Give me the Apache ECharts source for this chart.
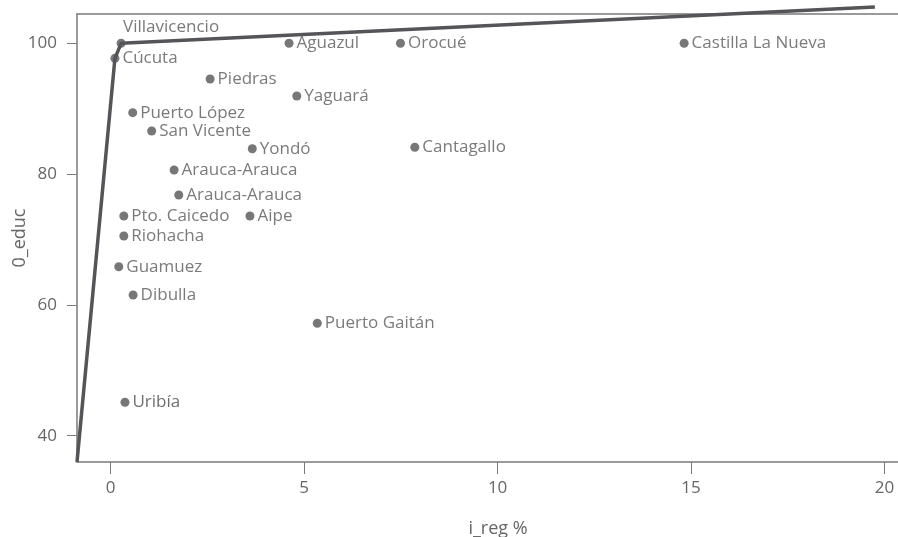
<!DOCTYPE html>
<html><head><meta charset="utf-8">
<script src="https://cdn.jsdelivr.net/npm/echarts@6/dist/echarts.min.js"></script>
<style>html,body{margin:0;padding:0;background:#fff}#c{width:898px;height:537px}</style>
</head><body><div id="c"></div>
<script>
const names = ["Villavicencio","Cúcuta","Aguazul","Orocué","Castilla La Nueva","Piedras","Yaguará","Puerto López","San Vicente","Yondó","Cantagallo","Arauca-Arauca","Arauca-Arauca","Pto. Caicedo","Aipe","Riohacha","Guamuez","Dibulla","Puerto Gaitán","Uribía"];
const xVals = [0.27,0.11,4.61,7.49,14.82,2.57,4.81,0.57,1.06,3.66,7.86,1.64,1.76,0.34,3.60,0.34,0.21,0.58,5.34,0.37];
const yVals = [100.0,97.7,100.0,100.0,100.0,94.54,91.94,89.39,86.59,83.88,84.1,80.63,76.81,73.6,73.6,70.54,65.84,61.51,57.19,45.11];
const frontierX = [-0.87,0.11,0.27,19.75];
const frontierY = [35.98,97.7,100.0,105.55];
const xTicks = [0,5,10,15,20];
const yTicks = [40,60,80,100];

const FONT = "Open Sans";
const TXT = "#595959";
const MARK = "#555559";

const pts = names.map((n,i)=>{
  const d = {value:[xVals[i],yVals[i]], name:n};
  if (n === "Villavicencio") {
    d.label = {position:'top', align:'left', offset:[2,0]};
  }
  if (n === "Uribía") {
    d.label = {color:'#4a4a4a', fontWeight:500};
  }
  return d;
});

const chart = echarts.init(document.getElementById('c'), null, {renderer:'canvas'});
chart.setOption({
  animation:false,
  grid:{left:77, top:14, right:-21, bottom:75, show:false, containLabel:false, outerBoundsMode:'none'},
  xAxis:[{
    type:'value', min:-0.87, max:20.89,
    name:'i_reg %', nameLocation:'middle', nameGap:58, nameMoveOverlap:false,
    nameTextStyle:{fontFamily:FONT, fontSize:18, color:'#666'},
    splitLine:{show:false},
    axisLine:{show:true, onZero:false, lineStyle:{color:'#7a7a7a', width:1.5}},
    axisTick:{show:true, length:12, customValues:xTicks, lineStyle:{color:'#7a7a7a'}},
    axisLabel:{customValues:xTicks, margin:18, fontFamily:FONT, fontSize:17, color:'#666'}
  },{
    type:'value', position:'top', min:-0.87, max:20.89,
    splitLine:{show:false}, axisTick:{show:false}, axisLabel:{show:false},
    axisLine:{show:true, onZero:false, lineStyle:{color:'#7a7a7a', width:1.5}}
  }],
  yAxis:{
    type:'value', min:35.98, max:104.48,
    name:'0_educ', nameLocation:'middle', nameGap:48, nameMoveOverlap:false,
    nameTextStyle:{fontFamily:FONT, fontSize:18, color:'#666'},
    splitLine:{show:false},
    axisLine:{show:true, onZero:false, lineStyle:{color:'#7a7a7a', width:1.5}},
    axisTick:{show:true, length:10, customValues:yTicks, lineStyle:{color:'#7a7a7a'}},
    axisLabel:{customValues:yTicks, margin:20, fontFamily:FONT, fontSize:17, color:'#666'}
  },
  series:[{
    type:'line', xAxisIndex:0,
    data: frontierX.map((x,i)=>[x,frontierY[i]]),
    showSymbol:false, clip:false,
    lineStyle:{color:MARK, width:3.5}, z:1
  },{
    type:'scatter', xAxisIndex:0,
    data: pts, symbolSize:9, clip:false,
    itemStyle:{color:MARK},
    label:{show:true, position:'right', distance:3, formatter:'{b}', fontFamily:FONT, fontSize:17, color:TXT},
    z:2
  }]
});
</script></body></html>
